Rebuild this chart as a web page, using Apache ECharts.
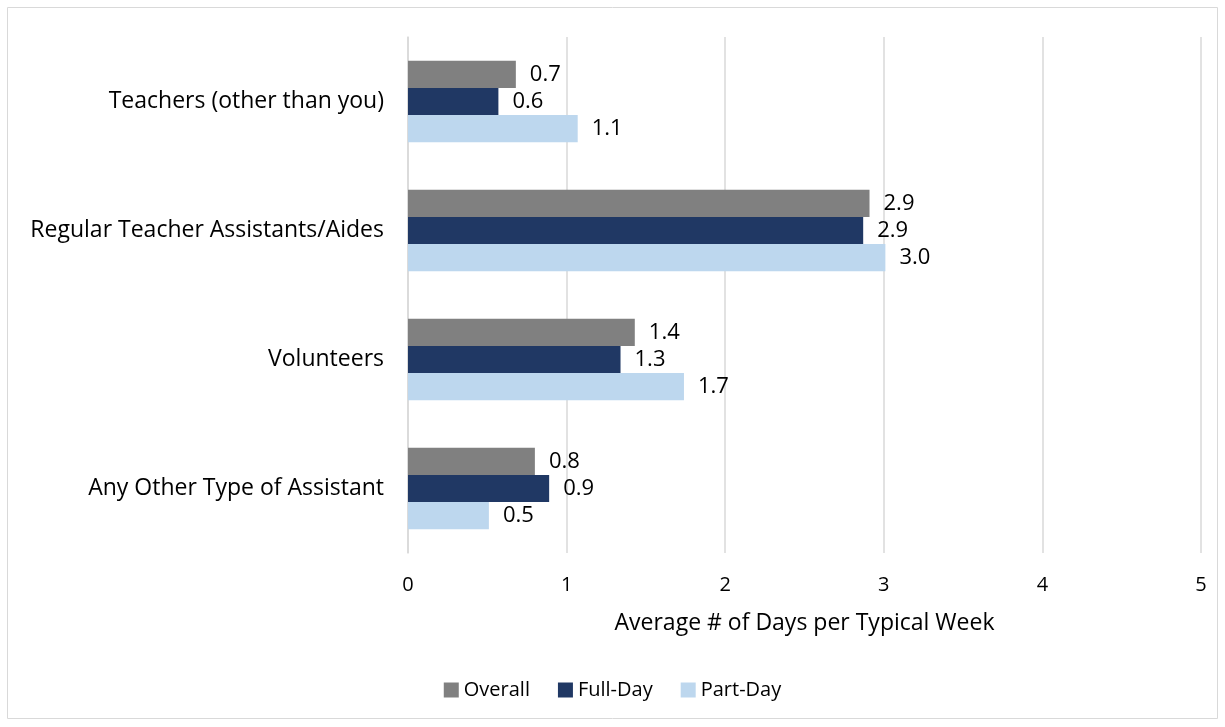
<!DOCTYPE html>
<html><head><meta charset="utf-8">
<script src="https://cdn.jsdelivr.net/npm/echarts@6/dist/echarts.min.js"></script>
<style>html,body{margin:0;padding:0;background:#fff}#c{width:1225px;height:727px}</style>
</head><body><div id="c"></div>
<script>
var categories = ["Teachers (other than you)", "Regular Teacher Assistants/Aides", "Volunteers", "Any Other Type of Assistant"];
var seriesNames = ["Overall", "Full-Day", "Part-Day"];
var overall = [0.68, 2.91, 1.43, 0.80];
var fullDay = [0.57, 2.87, 1.34, 0.89];
var partDay = [1.07, 3.01, 1.74, 0.51];
var colors = ["#808080", "#203864", "#BDD7EE"];
var FONT = "Open Sans";

var chart = echarts.init(document.getElementById('c'), null, {renderer: 'canvas'});
function mk(name, data, color) {
  return {
    name: name, type: 'bar', data: data, barGap: '0%', barCategoryGap: '37%',
    itemStyle: {color: color},
    label: {show: true, position: 'right', distance: 14, color: '#000', fontFamily: FONT, fontSize: 22,
      formatter: function(p){ return p.value.toFixed(1); }},
    emphasis: {disabled: true}, animation: false
  };
}
chart.setOption({
  animation: false,
  graphic: [{type: 'rect', shape: {x: 7.5, y: 7.5, width: 1210, height: 711}, style: {fill: 'none', stroke: '#d9d9d9', lineWidth: 1}}],
  grid: {left: 408, right: 24, top: 37, bottom: 174, containLabel: false},
  legend: {bottom: 22, left: 'center', itemWidth: 15, itemHeight: 15, itemGap: 28, itemTextGap: 5,
    textStyle: {fontFamily: FONT, fontSize: 20, color: '#000'}, data: seriesNames, icon: 'rect'},
  xAxis: {type: 'value', min: 0, max: 5, interval: 1,
    name: 'Average # of Days per Typical Week', nameLocation: 'middle', nameGap: 59,
    nameTextStyle: {fontFamily: FONT, fontSize: 23, color: '#000'},
    axisLine: {show: false}, axisTick: {show: false},
    axisLabel: {fontFamily: FONT, fontSize: 20, color: '#000', margin: 22},
    splitLine: {show: true, lineStyle: {color: '#d9d9d9', width: 1.5}}},
  yAxis: {type: 'category', data: categories, inverse: true,
    axisLine: {show: true, lineStyle: {color: '#d9d9d9', width: 1.5}}, axisTick: {show: false},
    axisLabel: {fontFamily: FONT, fontSize: 23, color: '#000', margin: 24}},
  series: [mk(seriesNames[0], overall, colors[0]), mk(seriesNames[1], fullDay, colors[1]), mk(seriesNames[2], partDay, colors[2])]
});
</script></body></html>
